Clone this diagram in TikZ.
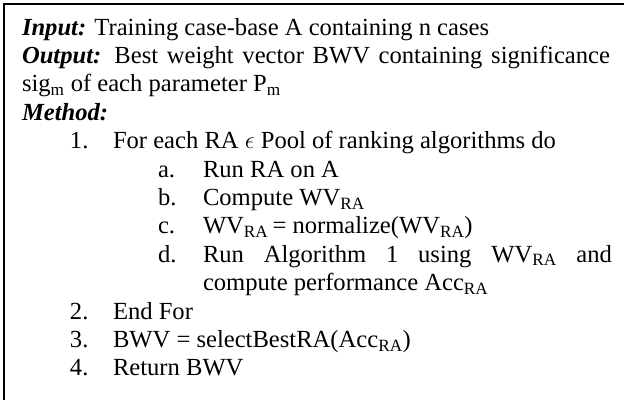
\documentclass[tikz,border=0pt]{standalone}
\usepackage{fontspec}
\setmainfont{Liberation Serif}
\newcommand{\sbs}[1]{\textsubscript{#1}}
\begin{document}
\begin{tikzpicture}[x=1pt,y=-1pt,
  txt/.style={anchor=base west,inner sep=0pt,outer sep=0pt,font=\fontsize{24.6}{28}\selectfont}]
\useasboundingbox (0,0) rectangle (625,400);
\draw[line width=1.5pt] (4,400) -- (4,4) -- (624,4);
\node[txt] (l1) at (22,35) {\textbf{\textit{Input:}} Training case-base A containing n cases};
\node[txt] (l2) at (22,63.4) {\makebox[588pt][s]{\textbf{\textit{Output:}} Best weight vector BWV containing significance}};
\node[txt] (l3) at (22,91.8) {sig\sbs{m} of each parameter P\sbs{m}};
\node[txt] (l4) at (22,120.2) {\textbf{\textit{Method:}}};
\node[txt] (n1) at (70,148.6) {1.};
\node[txt] (t1) at (113,148.6) {For each RA $\epsilon$ Pool of ranking algorithms do};
\node[txt] (na) at (158,177) {a.};
\node[txt] (ta) at (203,177) {Run RA on A};
\node[txt] (nb) at (158,205.4) {b.};
\node[txt] (tb) at (203,205.4) {Compute WV\sbs{RA}};
\node[txt] (nc) at (158,233.8) {c.};
\node[txt] (tc) at (203,233.8) {WV\sbs{RA}\,= normalize(WV\sbs{RA})};
\node[txt] (nd) at (158,262.2) {d.};
\node[txt] (td) at (203,262.2) {\makebox[409pt][s]{Run Algorithm 1 using WV\sbs{RA} and}};
\node[txt] (te) at (203,290.6) {compute performance Acc\sbs{RA}};
\node[txt] (n2) at (70,319) {2.};
\node[txt] (t2) at (113,319) {End For};
\node[txt] (n3) at (70,347.4) {3.};
\node[txt] (t3) at (113,347.4) {BWV = selectBestRA(Acc\sbs{RA})};
\node[txt] (n4) at (70,375.8) {4.};
\node[txt] (t4) at (113,375.8) {Return BWV};
\end{tikzpicture}
\end{document}
